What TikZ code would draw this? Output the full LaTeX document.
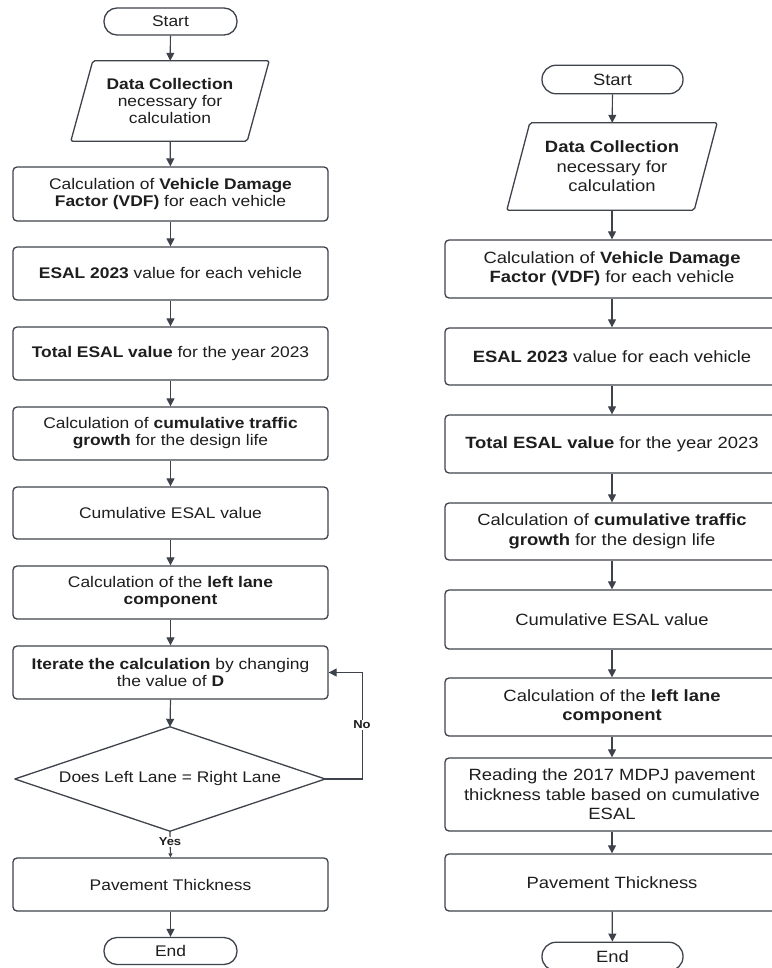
\documentclass[tikz,border=0pt]{standalone}
\usepackage{fontspec}
\setmainfont{Liberation Sans}[FakeStretch=1.13]
\usetikzlibrary{arrows.meta,calc}
\definecolor{ln}{HTML}{3E434B}
\definecolor{tx}{HTML}{1E1E1E}
\newcommand\leftfnt{\fontsize{15.4}{17}\selectfont}
\newcommand\rightfnt{\fontsize{16.3}{19.5}\selectfont}
\tikzset{
  shapeline/.style={draw=ln, line width=1.3pt},
  box/.style={shapeline, rounded corners=4pt, inner sep=0pt, align=center, text=tx},
  boxL/.style={box, minimum width=315pt, font=\leftfnt},
  boxR/.style={box, minimum width=334pt, font=\rightfnt},
  term/.style={shapeline, inner sep=0pt, align=center, text=tx},
  termL/.style={term, rounded corners=13pt, minimum width=133pt, minimum height=27pt, font=\leftfnt},
  termR/.style={term, rounded corners=14pt, minimum width=141pt, minimum height=28.5pt, font=\rightfnt},
  ghost/.style={inner sep=0pt, align=center, text=tx},
  arr/.style={draw=ln, line width=1.2pt, -{Triangle[length=8pt,width=8pt]}},
  arrsmall/.style={draw=ln, line width=1.2pt, -{Triangle[length=4pt,width=4pt]}},
  lbl/.style={fill=white, inner sep=1pt, text=tx, font=\bfseries\fontsize{11.5}{12}\selectfont}
}
\begin{document}
\begin{tikzpicture}[x=1pt,y=-1pt]
\useasboundingbox[fill=white] (0,0) rectangle (771,968);

% ---------------- Left flowchart ----------------
\node[termL] (sL) at (170.5,21.5) {Start};
\node[ghost, font=\leftfnt, minimum width=198pt, minimum height=80pt] (dL) at (170,101)
  {\textbf{Data Collection}\\necessary for\\calculation};
\draw[shapeline, rounded corners=2pt] ($(dL.north west)+(22,0)$) -- (dL.north east)
  -- ($(dL.south east)+(-22,0)$) -- (dL.south west) -- cycle;
\node[boxL, minimum height=54pt] (vL) at (170.5,194)
  {Calculation of \textbf{Vehicle Damage}\\\textbf{Factor (VDF)} for each vehicle};
\node[boxL, minimum height=53pt] (eL) at (170.5,273.5)
  {\textbf{ESAL 2023} value for each vehicle};
\node[boxL, minimum height=53pt] (tL) at (170.5,353.5)
  {\textbf{Total ESAL value} for the year 2023};
\node[boxL, minimum height=53pt] (gL) at (170.5,433.5)
  {Calculation of \textbf{cumulative traffic}\\\textbf{growth} for the design life};
\node[boxL, minimum height=52pt] (cL) at (170.5,513)
  {Cumulative ESAL value};
\node[boxL, minimum height=53pt] (lL) at (170.5,592.5)
  {Calculation of the \textbf{left lane}\\\textbf{component}};
\node[boxL, minimum height=53pt] (iL) at (170.5,672.5)
  {\textbf{Iterate the calculation} by changing\\the value of \textbf{D}};
\node[ghost, font=\leftfnt, minimum width=310pt, minimum height=104pt] (qL) at (170,779)
  {Does Left Lane = Right Lane};
\draw[shapeline, line join=round] (qL.north) -- (qL.east) -- (qL.south) -- (qL.west) -- cycle;
\node[boxL, minimum height=53pt] (pL) at (170.5,884.5)
  {Pavement Thickness};
\node[termL] (nL) at (170.5,951) {End};

\draw[arr] (sL) -- (dL);
\draw[arr] (dL) -- (vL);
\draw[arr] (vL) -- (eL);
\draw[arr] (eL) -- (tL);
\draw[arr] (tL) -- (gL);
\draw[arr] (gL) -- (cL);
\draw[arr] (cL) -- (lL);
\draw[arr] (lL) -- (iL);
\draw[arr] (iL.south) -- (qL.north);
\draw[arr] (qL.east) -- ++(37,0) |- (iL.east);
\draw[arrsmall] (qL.south) -- (pL.north);
\draw[arr] (pL) -- (nL);
\node[lbl] (no) at (362,725) {No};
\node[lbl] (yes) at (170,842) {Yes};

% ---------------- Right flowchart ----------------
\node[termR] (sR) at (612.5,79.5) {Start};
\node[ghost, font=\rightfnt, minimum width=210pt, minimum height=87pt] (dR) at (612,166.5)
  {\textbf{Data Collection}\\necessary for\\calculation};
\draw[shapeline, rounded corners=2pt] ($(dR.north west)+(23,0)$) -- (dR.north east)
  -- ($(dR.south east)+(-23,0)$) -- (dR.south west) -- cycle;
\node[boxR, minimum height=58pt] (vR) at (612,269)
  {Calculation of \textbf{Vehicle Damage}\\\textbf{Factor (VDF)} for each vehicle};
\node[boxR, minimum height=57pt] (eR) at (612,356.5)
  {\textbf{ESAL 2023} value for each vehicle};
\node[boxR, minimum height=58pt] (tR) at (612,444)
  {\textbf{Total ESAL value} for the year 2023};
\node[boxR, minimum height=57pt] (gR) at (612,531.5)
  {Calculation of \textbf{cumulative traffic}\\\textbf{growth} for the design life};
\node[boxR, minimum height=59pt] (cR) at (612,619.5)
  {Cumulative ESAL value};
\node[boxR, minimum height=58pt] (lR) at (612,707)
  {Calculation of the \textbf{left lane}\\\textbf{component}};
\node[boxR, minimum height=73pt] (rR) at (612,794.5)
  {Reading the 2017 MDPJ pavement\\thickness table based on cumulative\\ESAL};
\node[boxR, minimum height=57pt] (pR) at (612,882.5)
  {Pavement Thickness};
\node[termR] (nR) at (612.5,956.5) {End};

\draw[arr] (sR) -- (dR);
\draw[arr] (dR) -- (vR);
\draw[arr] (vR) -- (eR);
\draw[arr] (eR) -- (tR);
\draw[arr] (tR) -- (gR);
\draw[arr] (gR) -- (cR);
\draw[arr] (cR) -- (lR);
\draw[arr] (lR) -- (rR);
\draw[arr] (rR) -- (pR);
\draw[arr] (pR) -- (nR);
\end{tikzpicture}
\end{document}
